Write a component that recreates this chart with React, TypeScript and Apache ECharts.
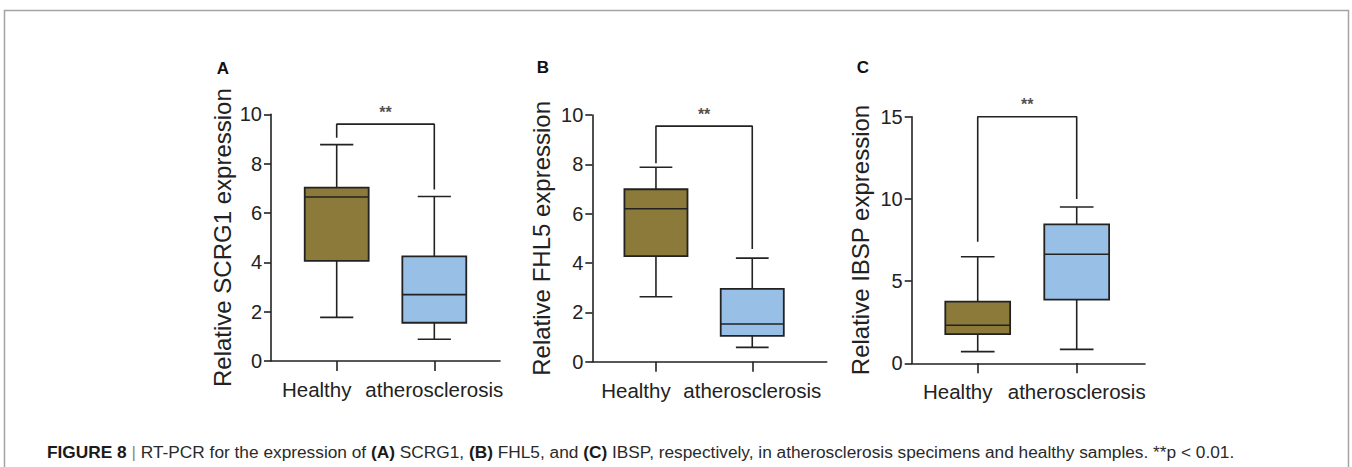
import React, { useEffect, useRef } from "react";
import * as echarts from "echarts";

// ---- data ----
const categories = ["Healthy", "atherosclerosis"];
// [min, Q1, median, Q3, max]
const scrg1Healthy = [1.77, 4.06, 6.65, 7.03, 8.77];
const scrg1Athero = [0.88, 1.55, 2.69, 4.24, 6.67];
const fhl5Healthy = [2.63, 4.28, 6.2, 6.99, 7.88];
const fhl5Athero = [0.58, 1.05, 1.53, 2.95, 4.2];
const ibspHealthy = [0.71, 1.78, 2.31, 3.75, 6.48];
const ibspAthero = [0.85, 3.87, 6.63, 8.45, 9.51];
// significance bracket: [left leg bottom, top, right leg bottom]
const bracketA = [9.05, 9.6, 6.95];
const bracketB = [8.04, 9.55, 4.57];
const bracketC = [7.4, 15.0, 10.0];
const sigLabel = "**";
const yNames = ["Relative SCRG1 expression", "Relative FHL5 expression", "Relative IBSP expression"];
const panelLetters = ["A", "B", "C"];
const yMax = [10, 10, 15];
const yInterval = [2, 2, 5];

const FILLS = ["#8b7a3a", "#98bfe6"];
const INK = "#222222";
const FONT = "'Liberation Sans', Arial, sans-serif";

const panels = [
  { healthy: scrg1Healthy, athero: scrg1Athero, bracket: bracketA, grid: { left: 271, top: 114.3, width: 229, height: 246.7 }, xmin: 0.327, xmax: 2.673, nameGap: 37, letter: [223, 68] },
  { healthy: fhl5Healthy, athero: fhl5Athero, bracket: bracketB, grid: { left: 592.3, top: 115, width: 234.4, height: 246.7 }, xmin: 0.339, xmax: 2.773, nameGap: 39, letter: [543, 67] },
  { healthy: ibspHealthy, athero: ibspAthero, bracket: bracketC, grid: { left: 911.7, top: 116.7, width: 233.3, height: 246.6 }, xmin: 0.333, xmax: 2.69, nameGap: 39, letter: [863, 67] },
];

function renderBox(params: any, api: any) {
  const x = api.value(0);
  const vals = [api.value(1), api.value(2), api.value(3), api.value(4), api.value(5)];
  const unit = api.size([1, 0])[0];
  const half = (unit * 0.655) / 2;
  const capHalf = (unit * 0.34) / 2;
  const p = vals.map((v) => api.coord([x, v]));
  const cx = p[0][0];
  const fill = FILLS[params.dataIndex % 2];
  const ls = { stroke: INK, lineWidth: 1.6 };
  return {
    type: "group",
    children: [
      { type: "line", shape: { x1: cx, y1: p[0][1], x2: cx, y2: p[1][1] }, style: ls },
      { type: "line", shape: { x1: cx, y1: p[3][1], x2: cx, y2: p[4][1] }, style: ls },
      { type: "line", shape: { x1: cx - capHalf, y1: p[0][1], x2: cx + capHalf, y2: p[0][1] }, style: ls },
      { type: "line", shape: { x1: cx - capHalf, y1: p[4][1], x2: cx + capHalf, y2: p[4][1] }, style: ls },
      { type: "rect", shape: { x: cx - half, y: p[3][1], width: half * 2, height: p[1][1] - p[3][1] }, style: { fill, stroke: INK, lineWidth: 1.8 } },
      { type: "line", shape: { x1: cx - half, y1: p[2][1], x2: cx + half, y2: p[2][1] }, style: ls },
    ],
  };
}

export default function App() {
  const ref = useRef<HTMLDivElement>(null);
  useEffect(() => {
    if (!ref.current) return;
    const chart = echarts.init(ref.current, undefined, { renderer: "svg" });
    const grids: any[] = [];
    const xAxes: any[] = [];
    const yAxes: any[] = [];
    const series: any[] = [];
    const graphics: any[] = [];
    panels.forEach((pn, i) => {
      grids.push({ ...pn.grid, containLabel: false });
      xAxes.push({
        type: "value",
        gridIndex: i,
        min: pn.xmin,
        max: pn.xmax,
        splitLine: { show: false },
        axisLine: { show: true, onZero: false, lineStyle: { color: INK, width: 1.6 } },
        axisTick: { show: true, customValues: [1, 2], length: 10, lineStyle: { color: INK, width: 1.6 } },
        axisLabel: {
          show: true,
          customValues: [1, 2],
          margin: 18,
          color: INK,
          fontSize: 20.5,
          fontFamily: FONT,
          formatter: (v: number) => (Math.round(v) === 1 ? `{h|${categories[0]}}` : categories[1]),
          rich: { h: { fontSize: 20.5, fontFamily: FONT, color: INK, padding: [0, 40, 0, 0] } },
        },
      });
      yAxes.push({
        type: "value",
        gridIndex: i,
        min: 0,
        max: yMax[i],
        interval: yInterval[i],
        name: yNames[i],
        nameLocation: "middle",
        nameRotate: 90,
        nameGap: pn.nameGap,
        nameTextStyle: { fontSize: 24, color: INK, fontFamily: FONT },
        splitLine: { show: false },
        axisLine: { show: true, onZero: false, lineStyle: { color: INK, width: 1.6 } },
        axisTick: { show: true, length: 7, lineStyle: { color: INK, width: 1.6 } },
        axisLabel: { color: INK, fontSize: 20, fontFamily: FONT, margin: 9 },
      });
      series.push({
        type: "custom",
        xAxisIndex: i,
        yAxisIndex: i,
        renderItem: renderBox,
        data: [
          [1, ...pn.healthy],
          [2, ...pn.athero],
        ],
        clip: false,
      });
      const b = pn.bracket;
      series.push({
        type: "line",
        xAxisIndex: i,
        yAxisIndex: i,
        symbol: "none",
        lineStyle: { color: INK, width: 1.6 },
        data: [
          [1, b[0]],
          [1, b[1]],
          [2, b[1]],
          [2, b[2]],
        ],
        silent: true,
      });
      series.push({
        type: "scatter",
        xAxisIndex: i,
        yAxisIndex: i,
        symbolSize: 0,
        data: [[1.5, b[1]]],
        label: { show: true, position: "top", distance: 4, formatter: sigLabel, fontSize: 16, fontWeight: "bold", color: INK, fontFamily: FONT },
        silent: true,
      });
      graphics.push({
        type: "text",
        x: pn.letter[0],
        y: pn.letter[1],
        style: { text: panelLetters[i], fontSize: 17, fontWeight: "bold", fill: "#111", fontFamily: FONT, align: "center", verticalAlign: "middle" },
      });
    });
    graphics.push({
      type: "rect",
      shape: { x: 4.5, y: 10.5, width: 1344, height: 520 },
      style: { fill: "none", stroke: "#a3a3a3", lineWidth: 1.5 },
    });
    graphics.push({
      type: "text",
      x: 47,
      y: 451.5,
      style: {
        text: "{b|FIGURE 8} {g||} RT-PCR for the expression of {b|(A)} SCRG1, {b|(B)} FHL5, and {b|(C)} IBSP, respectively, in atherosclerosis specimens and healthy samples. **p < 0.01.",
        fontSize: 17.3,
        fontFamily: FONT,
        fill: "#2a2a2a",
        verticalAlign: "middle",
        rich: {
          b: { fontWeight: "bold", fontSize: 17.3, fontFamily: FONT, fill: "#1a1a1a" } as any,
          g: { fontSize: 17.3, fill: "#888", fontFamily: FONT } as any,
        },
      },
    });
    chart.setOption({
      animation: false,
      backgroundColor: "#ffffff",
      grid: grids,
      xAxis: xAxes,
      yAxis: yAxes,
      series,
      graphic: graphics,
    });
    return () => chart.dispose();
  }, []);
  return <div ref={ref} style={{ position: "fixed", left: 0, top: 0, width: 1352, height: 467 }} />;
}
